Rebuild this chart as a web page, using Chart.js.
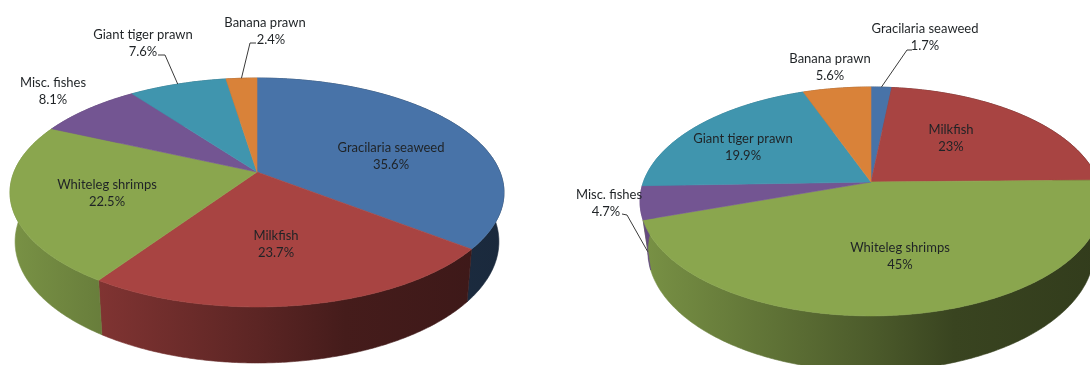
<!DOCTYPE html>
<html>
<head>
<meta charset="utf-8">
<script src="https://cdn.jsdelivr.net/npm/chart.js@4"></script>
<style>
  html, body { margin: 0; padding: 0; background: #fff; overflow: hidden; }
  #wrap { position: relative; width: 1090px; height: 365px; overflow: hidden; }
  canvas { position: absolute; left: 0; top: 0; }
</style>
</head>
<body>
<div id="wrap">
  <canvas id="leftPie" width="1090" height="365"></canvas>
  <canvas id="rightPie" width="1090" height="365"></canvas>
</div>
<script>
// data
const leftCategories = ['Gracilaria seaweed', 'Milkfish', 'Whiteleg shrimps', 'Misc. fishes', 'Giant tiger prawn', 'Banana prawn'];
const leftValues = [35.6, 23.7, 22.5, 8.1, 7.6, 2.4];
const rightCategories = ['Gracilaria seaweed', 'Milkfish', 'Whiteleg shrimps', 'Misc. fishes', 'Giant tiger prawn', 'Banana prawn'];
const rightValues = [1.7, 23, 45, 4.7, 19.9, 5.6];
const sliceColors = ['#4873a8', '#a84442', '#8aa64e', '#735592', '#4095ae', '#d98239'];

// perspective of each disc: apex y, vertical and horizontal reach, tilt
const leftShape = {
  cx: 257, c: -0.179, left: 10, right: 503,
  top: { y: 172, a: 80, d: 243 },
  base: { y: 220, a: 78, d: 238 }
};
const rightShape = {
  cx: 871, c: -0.17, left: 640, right: 1102,
  top: { y: 182, a: 80.2, d: 227.6 },
  base: { y: 230, a: 78, d: 220 }
};

// label centres, leader = [text end x, y, elbow x, y, which rim]
const leftLabels = [
  { x: 391, y: 148 },
  { x: 276, y: 236 },
  { x: 107, y: 185 },
  { x: 53, y: 83 },
  { x: 143, y: 35, leader: [158, 55, 165, 55, 'top'] },
  { x: 265, y: 23, dx: 6, leader: [256, 43, 250, 43, 'top'] }
];
const rightLabels = [
  { x: 925, y: 29, leader: [912, 50, 907, 50, 'top'] },
  { x: 951, y: 130 },
  { x: 900, y: 248 },
  { x: 609, y: 195, dx: -3, leader: [622, 214, 627, 215, 'base'] },
  { x: 743, y: 139 },
  { x: 830, y: 59 }
];

const wallStops = [[0, 0.88], [0.5, 0.55], [0.68, 0.41], [1, 0.36]];

function shade(hex, k) {
  const n = parseInt(hex.slice(1), 16);
  const r = Math.round((n >> 16) * k);
  const g = Math.round(((n >> 8) & 255) * k);
  const b = Math.round((n & 255) * k);
  return `rgb(${r},${g},${b})`;
}

// point on a rim for a chart.js arc angle
function rimPoint(shape, rim, angle) {
  const ux = Math.cos(angle);
  const uy = Math.sin(angle);
  const w = 1 + shape.c * uy;
  return { x: shape.cx + rim.d * ux / w, y: (rim.y + rim.a * uy) / w };
}

function tracePath(ctx, shape, rim, from, to, first) {
  const steps = Math.max(2, Math.ceil(Math.abs(to - from) / 0.01));
  for (let i = 0; i <= steps; i++) {
    const p = rimPoint(shape, rim, from + (to - from) * i / steps);
    if (i === 0 && first) ctx.moveTo(p.x, p.y);
    else ctx.lineTo(p.x, p.y);
  }
}

function makePie(canvasId, categories, values, labels, shape) {
  const pie3d = {
    id: 'pie3d',
    beforeDatasetDraw(chart, args) {
      const ctx = chart.ctx;
      const arcs = args.meta.data;

      // side walls first, the top covers what is behind
      arcs.forEach(arc => {
        const { startAngle, endAngle } = arc.getProps(['startAngle', 'endAngle'], true);
        const color = arc.options.backgroundColor;
        const grad = ctx.createLinearGradient(shape.left, 0, shape.right, 0);
        wallStops.forEach(s => grad.addColorStop(s[0], shade(color, s[1])));
        ctx.beginPath();
        tracePath(ctx, shape, shape.top, startAngle, endAngle, true);
        tracePath(ctx, shape, shape.base, endAngle, startAngle, false);
        ctx.closePath();
        ctx.fillStyle = grad;
        ctx.strokeStyle = grad;
        ctx.lineWidth = 0.6;
        ctx.fill();
        ctx.stroke();
      });

      // top of the disc
      arcs.forEach(arc => {
        const { startAngle, endAngle } = arc.getProps(['startAngle', 'endAngle'], true);
        const color = arc.options.backgroundColor;
        ctx.beginPath();
        ctx.moveTo(shape.cx, shape.top.y);
        tracePath(ctx, shape, shape.top, startAngle, endAngle, false);
        ctx.closePath();
        ctx.fillStyle = color;
        ctx.strokeStyle = color;
        ctx.lineWidth = 0.6;
        ctx.fill();
        ctx.stroke();
      });
      return false;
    },
    afterDatasetsDraw(chart) {
      const ctx = chart.ctx;
      const arcs = chart.getDatasetMeta(0).data;
      ctx.save();
      ctx.font = '13px Lato, sans-serif';
      ctx.textAlign = 'center';
      ctx.textBaseline = 'middle';
      labels.forEach((spot, i) => {
        if (spot.leader) {
          const { startAngle, endAngle } = arcs[i].getProps(['startAngle', 'endAngle'], true);
          const l = spot.leader;
          const end = rimPoint(shape, shape[l[4]], (startAngle + endAngle) / 2);
          ctx.beginPath();
          ctx.moveTo(l[0], l[1]);
          ctx.lineTo(l[2], l[3]);
          ctx.lineTo(end.x, end.y);
          ctx.strokeStyle = '#3a3a3a';
          ctx.lineWidth = 1;
          ctx.stroke();
        }
        ctx.fillStyle = '#1f2326';
        ctx.fillText(categories[i], spot.x, spot.y);
        ctx.fillText(values[i] + '%', spot.x + (spot.dx || 0), spot.y + 17);
      });
      ctx.restore();
    }
  };

  return new Chart(document.getElementById(canvasId), {
    type: 'pie',
    data: {
      labels: categories,
      datasets: [{ data: values, backgroundColor: sliceColors, borderWidth: 0 }]
    },
    options: {
      responsive: false,
      animation: false,
      events: [],
      plugins: { legend: { display: false }, tooltip: { enabled: false } }
    },
    plugins: [pie3d]
  });
}

makePie('leftPie', leftCategories, leftValues, leftLabels, leftShape);
makePie('rightPie', rightCategories, rightValues, rightLabels, rightShape);
</script>
</body>
</html>
